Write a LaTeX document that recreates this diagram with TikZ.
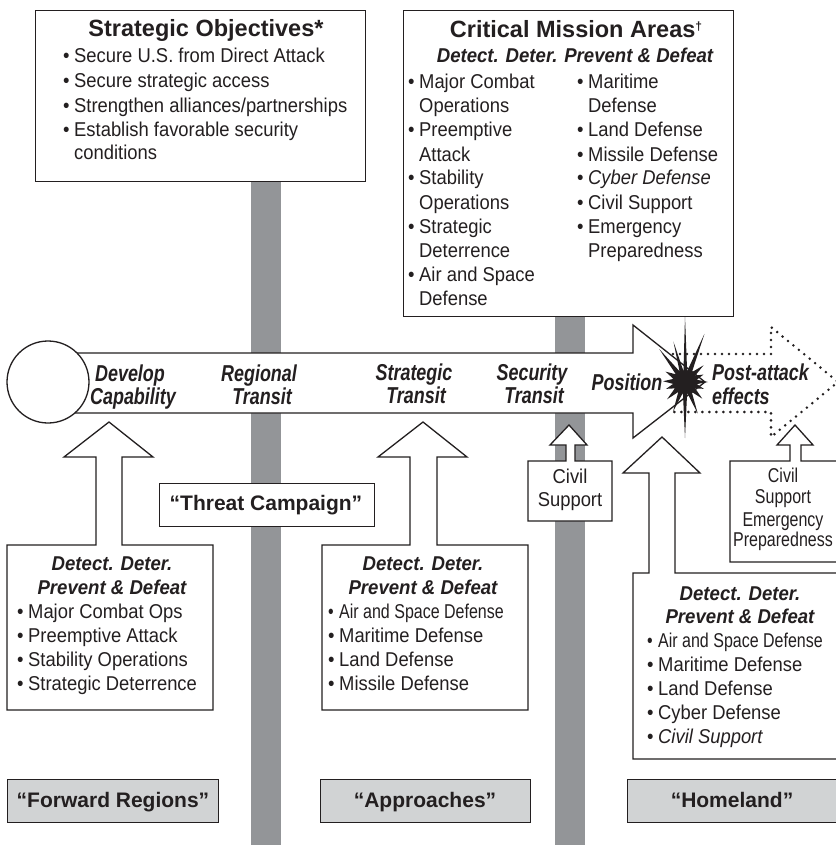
\documentclass[tikz,border=0pt]{standalone}
\usepackage{fontspec}
\setmainfont{Liberation Sans}
\newfontfamily\bodyf[FakeStretch=0.92]{Liberation Sans}
\newfontfamily\bodyn[FakeStretch=0.8]{Liberation Sans}
\newfontfamily\ddf[FakeStretch=0.93]{Liberation Sans}
\newfontfamily\arrf[FakeStretch=0.78]{Liberation Sans}
\definecolor{ink}{HTML}{231F20}
\definecolor{bargray}{HTML}{939598}
\definecolor{lgray}{HTML}{D1D3D4}
\newcommand\bl{\makebox[11pt][l]{•}}
\tikzset{
  body/.style={font=\bodyf\fontsize{20}{24}\selectfont, inner sep=0pt, anchor=base west, text=ink},
  bodyc/.style={body, anchor=base},
  narrow/.style={font=\bodyn\fontsize{20}{24}\selectfont},
  small/.style={font=\bodyn\fontsize{20}{20}\selectfont},
  dd/.style={font=\ddf\bfseries\itshape\fontsize{20}{24}\selectfont, inner sep=0pt, anchor=base, text=ink},
  ttl/.style={font=\bfseries\fontsize{23.5}{28}\selectfont, inner sep=0pt, anchor=base, text=ink},
  reg/.style={font=\bfseries\fontsize{21}{25}\selectfont, inner sep=0pt, anchor=base, text=ink},
  arrl/.style={font=\arrf\bfseries\itshape\fontsize{23}{23}\selectfont, inner sep=0pt, anchor=base, text=ink},
  boxline/.style={draw=ink, line width=1.4pt, fill=white, line join=miter},
  shapeline/.style={draw=ink, line width=1.3pt, fill=white, line join=miter},
  regbox/.style={draw=ink, line width=1.4pt, fill=lgray},
  dots/.style={draw=ink, line width=2.8pt, dash pattern=on 0pt off 7pt, line cap=round},
  barfill/.style={fill=bargray, draw=none}
}
\begin{document}
\begin{tikzpicture}[x=1pt, y=-1pt]
% background
\fill[white] (0,0) rectangle (835,845);
% gray bars
\path[barfill] (251,181) rectangle (281,850);
\path[barfill] (555,316) rectangle (585,850);

% Strategic objectives box
\node[boxline, minimum width=330pt, minimum height=171pt, anchor=north west, inner sep=0pt] (sobox) at (35,10) {};
\node[ttl] (sot) at (206,37) {Strategic Objectives*};
\node[body] (so1) at (63,63) {\bl Secure U.S. from Direct Attack};
\node[body] (so2) at (63,88) {\bl Secure strategic access};
\node[body] (so3) at (63,113) {\bl Strengthen alliances/partnerships};
\node[body] (so4) at (63,137) {\bl Establish favorable security};
\node[body] (so5) at (74,160) {conditions};

% Critical mission areas box
\node[boxline, minimum width=330pt, minimum height=306pt, anchor=north west, inner sep=0pt] (cmbox) at (403,10) {};
\node[ttl] (cmt) at (576,38) {Critical Mission Areas\raisebox{7pt}{\fontsize{12}{12}\selectfont †}};
\node[dd] (cmd) at (575,63) {Detect. Deter. Prevent \& Defeat};
\node[body] (cl1) at (408,89) {\bl Major Combat};
\node[body] (cl2) at (419,113) {Operations};
\node[body] (cl3) at (408,137) {\bl Preemptive};
\node[body] (cl4) at (419,161) {Attack};
\node[body] (cl5) at (408,185) {\bl Stability};
\node[body] (cl6) at (419,209) {Operations};
\node[body] (cl7) at (408,233) {\bl Strategic};
\node[body] (cl8) at (419,257) {Deterrence};
\node[body] (cl9) at (408,281) {\bl Air and Space};
\node[body] (cl10) at (419,305) {Defense};
\node[body] (cr1) at (577,89) {\bl Maritime};
\node[body] (cr2) at (588,113) {Defense};
\node[body] (cr3) at (577,137) {\bl Land Defense};
\node[body] (cr4) at (577,161) {\bl Missile Defense};
\node[body] (cr5) at (577,185) {\bl \textit{Cyber Defense}};
\node[body] (cr6) at (577,209) {\bl Civil Support};
\node[body] (cr7) at (577,233) {\bl Emergency};
\node[body] (cr8) at (588,257) {Preparedness};

% main arrow
\path[shapeline] (48,353) -- (633,353) -- (633,325) -- (705,382) -- (633,438) -- (633,413) -- (48,413) -- cycle;
\node[circle, draw=ink, fill=white, line width=1.3pt, minimum size=82pt, inner sep=0pt] (origin) at (48,382) {};

% dotted arrow
\path[dots] (673,354) -- (771,354) -- (771,327) -- (838,382) -- (771,437) -- (771,412) -- (673,412);

% starburst
\begin{scope}[shift={(685,382)}]
\fill[ink] (0:23pt) -- (11:12pt) -- (22:20pt) -- (32:12pt) -- (42:25pt) -- (55:12pt)
  -- (68:52pt) -- (79:11pt) -- (90:66pt) -- (98:11pt) -- (106:42pt) -- (117:12pt)
  -- (128:42pt) -- (140:12pt) -- (152:22pt) -- (165:12pt) -- (178:22pt) -- (189:12pt)
  -- (200:20pt) -- (212:12pt) -- (224:25pt) -- (236:12pt) -- (248:32pt) -- (259:11pt)
  -- (270:56pt) -- (281:11pt) -- (292:34pt) -- (304:12pt) -- (316:24pt) -- (328:12pt)
  -- (340:20pt) -- (350:12pt) -- cycle;
\end{scope}

% arrow labels
\node[arrl] (dev1) at (130,381) {Develop};
\node[arrl] (dev2) at (133,404) {Capability};
\node[arrl] (reg1) at (259,381) {Regional};
\node[arrl] (reg2) at (262,404) {Transit};
\node[arrl] (str1) at (414,380) {Strategic};
\node[arrl] (str2) at (416,403) {Transit};
\node[arrl] (sec1) at (532,380) {Security};
\node[arrl] (sec2) at (534,403) {Transit};
\node[arrl] (pos) at (627,390) {Position};
\node[arrl, anchor=base west] (pa1) at (712,380) {Post-attack};
\node[arrl, anchor=base west] (pa2) at (712,404) {effects};

% lower left box + arrow
\path[shapeline] (7,545) -- (96,545) -- (96,457) -- (64,457) -- (109,422) -- (153,457) -- (122,457) -- (122,545) -- (213,545) -- (213,710) -- (7,710) -- cycle;
\node[dd] (ld1) at (112,570) {Detect. Deter.};
\node[dd] (ld2) at (112,594) {Prevent \& Defeat};
\node[body] (lb1) at (17,618) {\bl Major Combat Ops};
\node[body] (lb2) at (17,642) {\bl Preemptive Attack};
\node[body] (lb3) at (17,666) {\bl Stability Operations};
\node[body] (lb4) at (17,690) {\bl Strategic Deterrence};

% middle box + arrow
\path[shapeline] (322,545) -- (410,545) -- (410,457) -- (378,457) -- (423,422) -- (467,457) -- (437,457) -- (437,545) -- (528,545) -- (528,710) -- (322,710) -- cycle;
\node[dd] (md1) at (423,570) {Detect. Deter.};
\node[dd] (md2) at (423,594) {Prevent \& Defeat};
\node[body, narrow] (mb1) at (328,618) {\bl Air and Space Defense};
\node[body] (mb2) at (328,642) {\bl Maritime Defense};
\node[body] (mb3) at (328,666) {\bl Land Defense};
\node[body] (mb4) at (328,690) {\bl Missile Defense};

% threat campaign
\node[boxline, minimum width=215pt, minimum height=43pt, anchor=north west, inner sep=0pt] (tcbox) at (159,483) {};
\node[reg] (tc) at (266,510) {“Threat Campaign”};

% small civil support
\path[shapeline] (528,461) -- (566,461) -- (566,445) -- (550,445) -- (569,425) -- (587,445) -- (575,445) -- (575,461) -- (612,461) -- (612,521) -- (528,521) -- cycle;
\node[bodyc] (cs1) at (570,483) {Civil};
\node[bodyc] (cs2) at (570,506) {Support};

% homeland box + arrow
\path[shapeline] (633,573) -- (649,573) -- (649,473) -- (623,473) -- (662,437) -- (700,473) -- (675,473) -- (675,573) -- (845,573) -- (845,759) -- (633,759) -- cycle;
\node[dd] (hd1) at (740,600) {Detect. Deter.};
\node[dd] (hd2) at (740,623) {Prevent \& Defeat};
\node[body, narrow] (hb1) at (647,647) {\bl Air and Space Defense};
\node[body] (hb2) at (647,671) {\bl Maritime Defense};
\node[body] (hb3) at (647,695) {\bl Land Defense};
\node[body] (hb4) at (647,719) {\bl Cyber Defense};
\node[body] (hb5) at (647,743) {\bl \textit{Civil Support}};

% right civil support / emergency
\path[shapeline] (730,461) -- (790,461) -- (790,445) -- (777,445) -- (795,425) -- (813,445) -- (801,445) -- (801,461) -- (838,461) -- (838,562) -- (730,562) -- cycle;
\node[bodyc, small] (rc1) at (783,482) {Civil};
\node[bodyc, small] (rc2) at (783,503) {Support};
\node[bodyc, small] (rc3) at (783,526) {Emergency};
\node[bodyc, small] (rc4) at (783,546) {Preparedness};

% region boxes
\node[regbox, minimum width=211pt, minimum height=43pt, anchor=north west, inner sep=0pt] (frbox) at (7,779) {};
\node[reg] (fr) at (113,807) {“Forward Regions”};
\node[regbox, minimum width=210pt, minimum height=43pt, anchor=north west, inner sep=0pt] (apbox) at (320,779) {};
\node[reg] (ap) at (425,807) {“Approaches”};
\node[regbox, minimum width=212pt, minimum height=43pt, anchor=north west, inner sep=0pt] (hmbox) at (627,779) {};
\node[reg] (hm) at (732,807) {“Homeland”};

\pgfresetboundingbox
\useasboundingbox (0,0) rectangle (835,845);
\end{tikzpicture}
\end{document}
